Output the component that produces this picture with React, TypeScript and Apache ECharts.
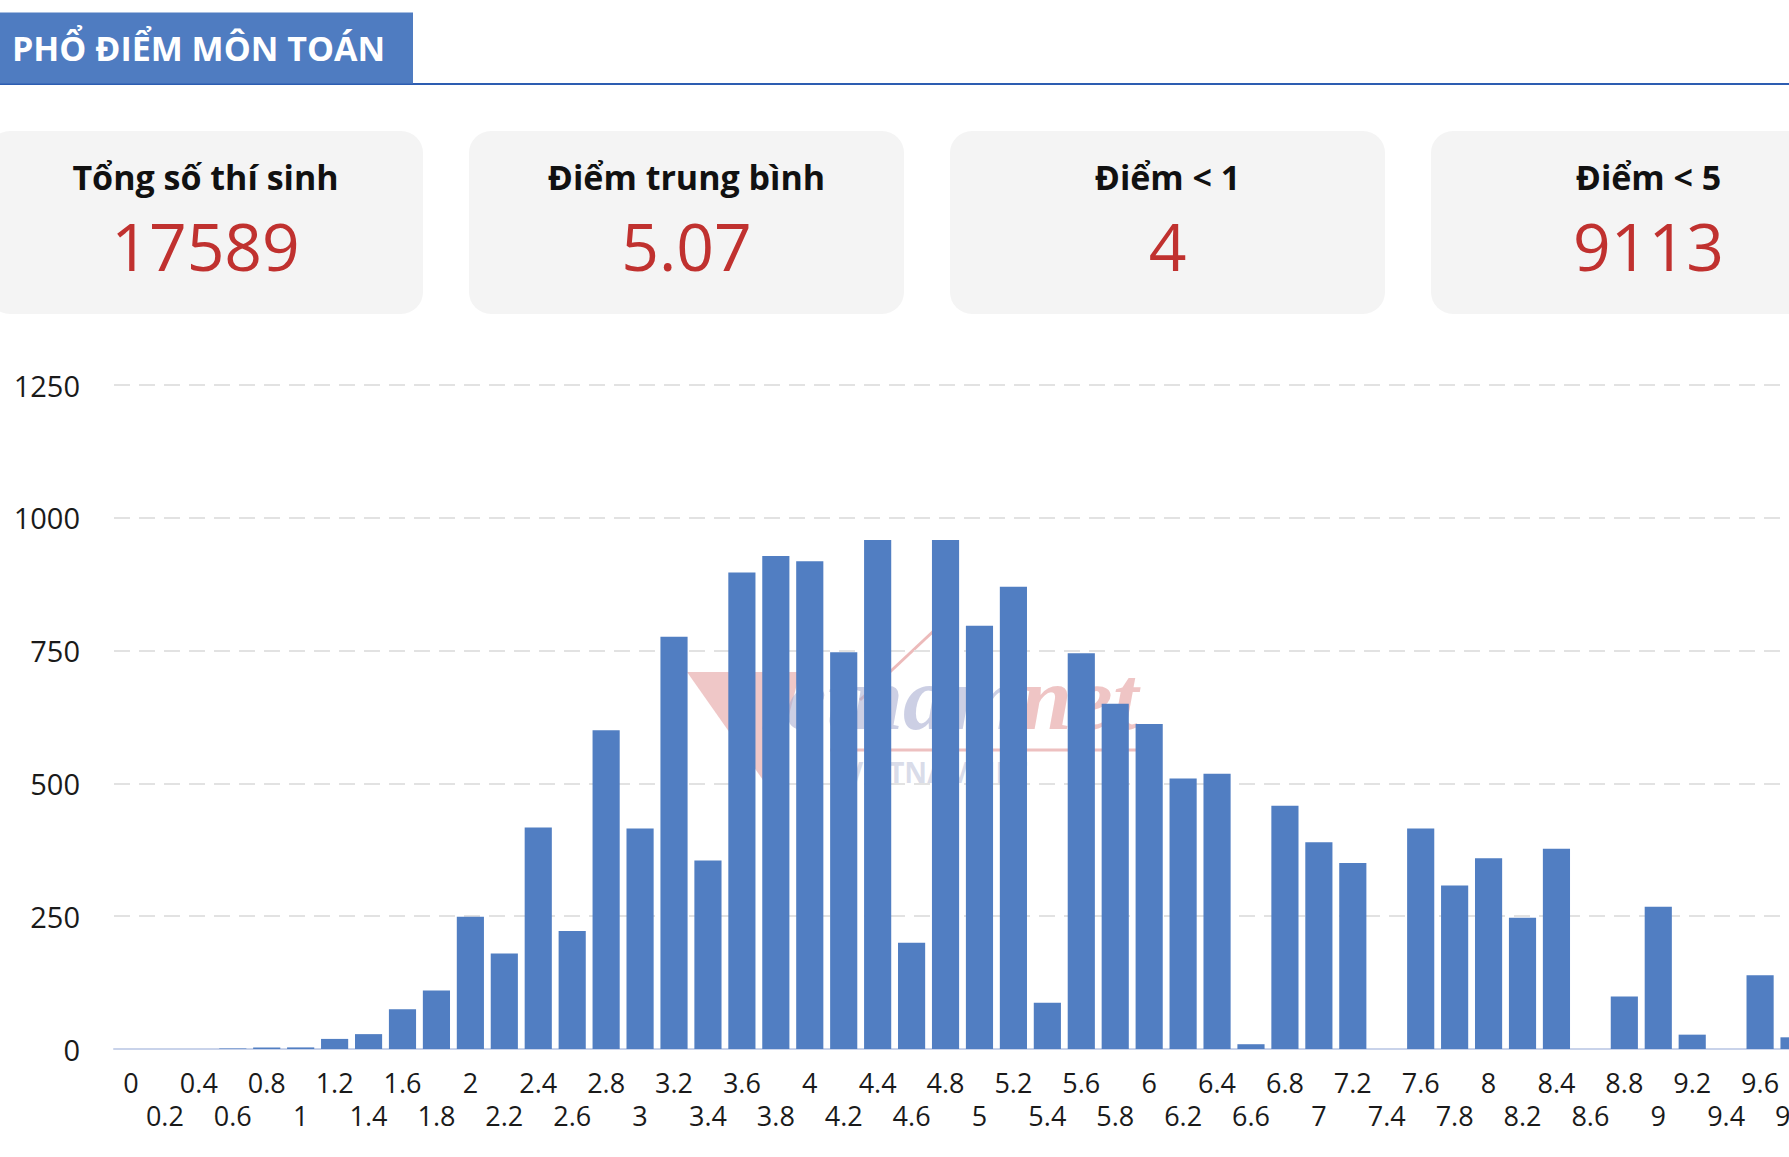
import React, { useEffect, useRef } from "react";
import * as echarts from "echarts";

const titleText = "PHỔ ĐIỂM MÔN TOÁN";
const cardTitles = ["Tổng số thí sinh", "Điểm trung bình", "Điểm < 1", "Điểm < 5"];
const cardValues = ["17589", "5.07", "4", "9113"];

const scores = [
  "0", "0.2", "0.4", "0.6", "0.8", "1", "1.2", "1.4", "1.6", "1.8",
  "2", "2.2", "2.4", "2.6", "2.8", "3", "3.2", "3.4", "3.6", "3.8",
  "4", "4.2", "4.4", "4.6", "4.8", "5", "5.2", "5.4", "5.6", "5.8",
  "6", "6.2", "6.4", "6.6", "6.8", "7", "7.2", "7.4", "7.6", "7.8",
  "8", "8.2", "8.4", "8.6", "8.8", "9", "9.2", "9.4", "9.6", "9.8",
];
const counts = [
  0, 0, 0, 1, 3, 3, 19, 28, 75, 110,
  249, 180, 417, 222, 600, 415, 776, 355, 897, 928,
  918, 747, 958, 200, 958, 797, 870, 87, 745, 650,
  612, 509, 518, 9, 458, 389, 350, 0, 415, 308,
  359, 247, 377, 0, 99, 268, 27, 0, 139, 22,
];
const yTicks = { min: 0, max: 1250, interval: 250 };

const CHART_W = 1900;
const CHART_H = 1157;

export default function App() {
  const ref = useRef<HTMLDivElement>(null);
  useEffect(() => {
    document.body.style.margin = "0";
    document.body.style.overflow = "hidden";
    if (!ref.current) return;
    const chart = echarts.init(ref.current, undefined, { renderer: "svg" });

    const cardW = 435;
    const cardPitch = 481;
    const cardX0 = -12;
    const graphics: any[] = [];
    // title bar
    graphics.push({
      type: "line",
      z: 5,
      shape: { x1: 0, y1: 84, x2: CHART_W, y2: 84 },
      style: { stroke: "#2d5db1", lineWidth: 2 },
    });
    graphics.push({
      type: "rect",
      z: 6,
      shape: { x: 0, y: 12.5, width: 413, height: 71 },
      style: { fill: "#4f7cc1" },
    });
    graphics.push({
      type: "text",
      z: 7,
      x: 12,
      y: 48,
      style: {
        text: titleText,
        fill: "#ffffff",
        font: "bold 34px 'Open Sans'",
        verticalAlign: "middle",
        align: "left",
        textShadowColor: "rgba(20,60,150,0.9)",
        textShadowOffsetX: 1,
        textShadowOffsetY: 1.5,
        textShadowBlur: 0,
      },
    });
    // cards
    cardTitles.forEach((t, i) => {
      const x = cardX0 + i * cardPitch;
      const cx = x + cardW / 2;
      graphics.push({
        type: "rect",
        z: 5,
        shape: { x, y: 131, width: cardW, height: 183, r: 22 },
        style: { fill: "#f4f4f4" },
      });
      graphics.push({
        type: "text",
        z: 6,
        x: cx,
        y: 177,
        style: {
          text: t,
          fill: "#111111",
          font: "bold 34px 'Open Sans'",
          align: "center",
          verticalAlign: "middle",
        },
      });
      graphics.push({
        type: "text",
        z: 6,
        x: cx,
        y: 245,
        style: {
          text: cardValues[i],
          fill: "#c0312f",
          font: "normal 66px 'Open Sans'",
          align: "center",
          verticalAlign: "middle",
        },
      });
    });
    // faint watermark behind bars
    graphics.push({
      type: "group",
      z: 0,
      silent: true,
      children: [
        {
          type: "polygon",
          shape: { points: [[687, 672], [800, 672], [770, 790]] },
          style: { fill: "rgba(220,130,130,0.45)" },
        },
        {
          type: "polyline",
          shape: { points: [[860, 700], [940, 625]] },
          style: { stroke: "rgba(220,130,130,0.55)", lineWidth: 3 },
        },
        {
          type: "text",
          x: 760,
          y: 744,
          style: {
            text: "{a|ietnam}{b|net}",
            verticalAlign: "bottom",
            align: "left",
            rich: {
              a: { font: "italic bold 92px 'Liberation Serif'", fill: "rgba(170,175,210,0.6)" },
              b: { font: "italic bold 92px 'Liberation Serif'", fill: "rgba(225,150,150,0.55)" },
            },
          },
        },
        {
          type: "line",
          shape: { x1: 830, y1: 750, x2: 1145, y2: 750 },
          style: { stroke: "rgba(225,150,150,0.6)", lineWidth: 3 },
        },
        {
          type: "text",
          x: 845,
          y: 772,
          style: {
            text: "VIETNAMNET",
            font: "bold 28px 'Open Sans'",
            fill: "rgba(185,190,215,0.55)",
            verticalAlign: "middle",
            align: "left",
          },
        },
      ],
    });

    chart.setOption({
      animation: false,
      backgroundColor: "#ffffff",
      grid: {
        left: 114,
        top: 385,
        width: 33.94 * scores.length,
        height: 664,
        containLabel: false,
      },
      xAxis: {
        type: "category",
        data: scores,
        axisLine: { show: true, lineStyle: { color: "#c9d3ea", width: 2 } },
        axisTick: { show: false },
        axisLabel: {
          interval: 0,
          hideOverlap: false,
          color: "#1a1a1a",
          fontFamily: "Open Sans",
          fontSize: 27,
          lineHeight: 33,
          margin: 17,
          formatter: (v: string, i: number) => (i % 2 === 1 ? "\n" + v : v),
        },
        splitLine: { show: false },
      },
      yAxis: {
        type: "value",
        min: yTicks.min,
        max: yTicks.max,
        interval: yTicks.interval,
        axisLine: { show: false },
        axisTick: { show: false },
        axisLabel: {
          color: "#1a1a1a",
          fontFamily: "Open Sans",
          fontSize: 29,
          margin: 34,
          formatter: (v: number) => String(v),
        },
        splitLine: {
          show: true,
          lineStyle: { color: "#e2e2e2", width: 2, type: [16, 9] },
        },
      },
      graphic: graphics,
      series: [
        {
          type: "bar",
          data: counts,
          barCategoryGap: "20%",
          z: 2,
          itemStyle: {
            color: "#517ec2",
            borderWidth: 0,
          },
        },
      ],
    });
    return () => chart.dispose();
  }, []);

  return (
    <div
      style={{
        position: "fixed",
        left: 0,
        top: 0,
        width: 1789,
        height: 1157,
        overflow: "hidden",
        background: "#ffffff",
      }}
    >
      <div ref={ref} style={{ width: CHART_W, height: CHART_H }} />
    </div>
  );
}
